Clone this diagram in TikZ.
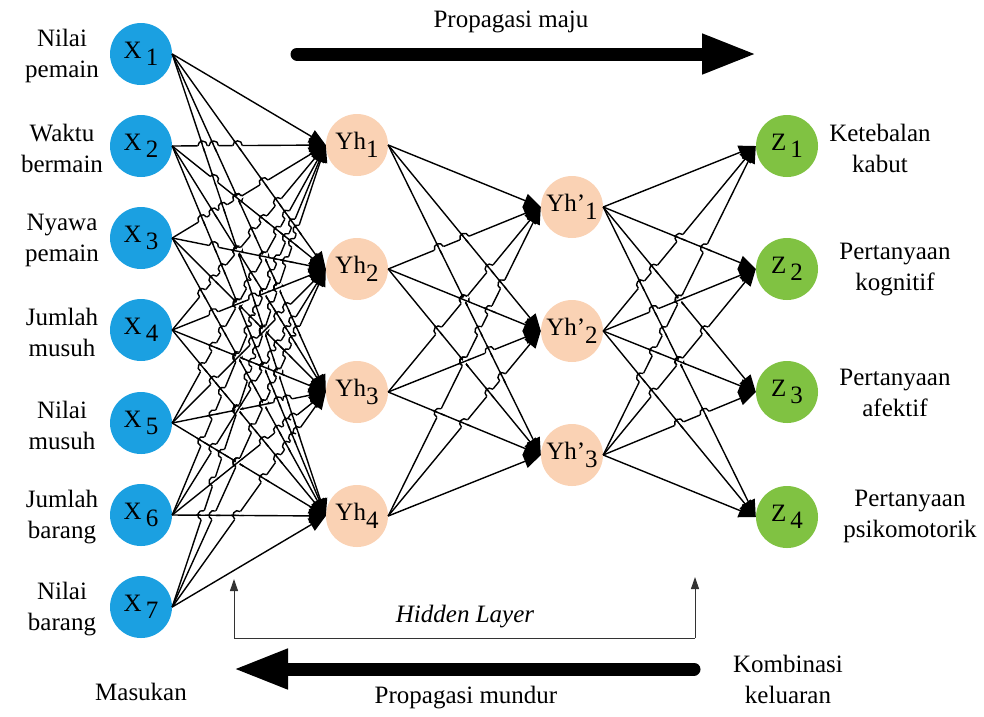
\documentclass[tikz,border=0pt]{standalone}
\usepackage{fontspec}
\setmainfont{LiberationSerif}[Extension=.ttf,UprightFont=*-Regular,ItalicFont=*-Italic,BoldFont=*-Bold,BoldItalicFont=*-BoldItalic]
\usetikzlibrary{arrows.meta}
\definecolor{inblue}{RGB}{27,160,225}
\definecolor{hidpeach}{RGB}{250,210,180}
\definecolor{outgreen}{RGB}{128,194,66}
\newcommand\lowsub[1]{\raisebox{-0.3em}{#1}}

% small hop where a later connector crosses an earlier one
\newcommand\hopat{%
  \draw[white,line width=4pt]
    ({\hpX-4.9*\hpUx},{\hpY-4.9*\hpUy}) -- ({\hpX+4.9*\hpUx},{\hpY+4.9*\hpUy});
  \draw[line width=1.4pt]
    ({\hpX-6.5*\hpVx},{\hpY-6.5*\hpVy}) -- ({\hpX+6.5*\hpVx},{\hpY+6.5*\hpVy});
  \draw[line width=1.4pt]
    ({\hpX-4.7*\hpUx},{\hpY-4.7*\hpUy})
    .. controls +({6.3*\hpUy},{-6.3*\hpUx}) and +({6.3*\hpUy},{-6.3*\hpUx}) ..
    ({\hpX+4.7*\hpUx},{\hpY+4.7*\hpUy});
}
% #1 source x, #2 target x, #3 source ys, #4 number of sources,
% #5 target ys, #6 number of targets
\newcommand\hoplayer[6]{%
 \foreach \hpI in {2,...,#4}{%
  \pgfmathtruncatemacro\hpIm{\hpI-1}%
  \foreach \hpK in {1,...,\hpIm}{%
   \foreach \hpJ in {1,...,#6}{%
    \foreach \hpL in {1,...,#6}{%
     \pgfmathsetmacro\hpSi{{#3}[\hpI-1]}%
     \pgfmathsetmacro\hpSk{{#3}[\hpK-1]}%
     \pgfmathsetmacro\hpTj{{#5}[\hpJ-1]}%
     \pgfmathsetmacro\hpTl{{#5}[\hpL-1]}%
     \pgfmathsetmacro\hpD{\hpSi-\hpSk}%
     \pgfmathsetmacro\hpE{\hpTl-\hpTj}%
     \ifdim\hpE pt>0pt
      \pgfmathsetmacro\hpT{\hpD/(\hpD+\hpE)}%
      \ifdim\hpT pt>0.07pt \ifdim\hpT pt<0.88pt
        \pgfmathsetmacro\hpDx{#2-#1}%
        \pgfmathsetmacro\hpX{#1+\hpT*\hpDx}%
        \pgfmathsetmacro\hpY{\hpSi+\hpT*(\hpTj-\hpSi)}%
        \pgfmathsetmacro\hpBl{veclen(\hpDx,\hpTj-\hpSi)}%
        \pgfmathsetmacro\hpUx{\hpDx/\hpBl}%
        \pgfmathsetmacro\hpUy{(\hpTj-\hpSi)/\hpBl}%
        \pgfmathsetmacro\hpAl{veclen(\hpDx,\hpTl-\hpSk)}%
        \pgfmathsetmacro\hpVx{\hpDx/\hpAl}%
        \pgfmathsetmacro\hpVy{(\hpTl-\hpSk)/\hpAl}%
        \hopat
      \fi\fi
     \fi
    }}}}%
}

\begin{document}
\begin{tikzpicture}[x=1pt,y=-1pt,
  every node/.style={font=\fontsize{25}{31}\selectfont},
  neuron/.style={circle,minimum size=62pt,inner sep=0pt},
  innode/.style={neuron,fill=inblue},
  hidnode/.style={neuron,fill=hidpeach},
  outnode/.style={neuron,fill=outgreen},
  lab/.style={align=center},
  link/.style={line width=1.4pt,-{Triangle[length=17pt,width=14pt]}},
  bigarrow/.style={line width=13pt,line cap=round,-{Triangle[length=55pt,width=37pt]}},
  bracket/.style={line width=1pt,draw=black!80,-{Triangle[length=12pt,width=8pt]}}]
\useasboundingbox (0,0) rectangle (984,716);

% input layer
\node[innode] (x1) at (141,54)  {X\,\lowsub{1}};
\node[innode] (x2) at (141,146) {X\,\lowsub{2}};
\node[innode] (x3) at (141,238) {X\,\lowsub{3}};
\node[innode] (x4) at (141,330) {X\,\lowsub{4}};
\node[innode] (x5) at (141,423) {X\,\lowsub{5}};
\node[innode] (x6) at (141,515) {X\,\lowsub{6}};
\node[innode] (x7) at (141,607) {X\,\lowsub{7}};

\node[lab] (lx1) at (62,56)  {Nilai\\pemain};
\node[lab] (lx2) at (62,148) {Waktu\\bermain};
\node[lab] (lx3) at (62,240) {Nyawa\\pemain};
\node[lab] (lx4) at (62,332) {Jumlah\\musuh};
\node[lab] (lx5) at (62,425) {Nilai\\musuh};
\node[lab] (lx6) at (62,517) {Jumlah\\barang};
\node[lab] (lx7) at (62,609) {Nilai\\barang};

% first hidden layer
\node[hidnode] (h1) at (357,145) {Yh\lowsub{1}};
\node[hidnode] (h2) at (357,269) {Yh\lowsub{2}};
\node[hidnode] (h3) at (357,392) {Yh\lowsub{3}};
\node[hidnode] (h4) at (357,516) {Yh\lowsub{4}};

% second hidden layer
\node[hidnode] (g1) at (572,207) {Yh’\lowsub{1}};
\node[hidnode] (g2) at (572,331) {Yh’\lowsub{2}};
\node[hidnode] (g3) at (572,455) {Yh’\lowsub{3}};

% output layer
\node[outnode] (z1) at (787,146) {Z\,\lowsub{1}};
\node[outnode] (z2) at (787,269) {Z\,\lowsub{2}};
\node[outnode] (z3) at (787,392) {Z\,\lowsub{3}};
\node[outnode] (z4) at (787,517) {Z\,\lowsub{4}};

\node[lab] (lz1) at (880,148) {Ketebalan\\kabut};
\node[lab] (lz2) at (895,270) {Pertanyaan\\kognitif};
\node[lab] (lz3) at (895,393) {Pertanyaan\\afektif};
\node[lab] (lz4) at (910,516) {Pertanyaan\\psikomotorik};

% connections
\foreach \i in {1,...,7}
  \foreach \j in {1,...,4}
    \draw[link] (x\i.east) -- (h\j.west);
\foreach \i in {1,...,4}
  \foreach \j in {1,...,3}
    \draw[link] (h\i.east) -- (g\j.west);
\foreach \i in {1,...,3}
  \foreach \j in {1,...,4}
    \draw[link] (g\i.east) -- (z\j.west);

% line hops at the crossings
\hoplayer{172}{326}{54,146,238,330,423,515,607}{7}{145,269,392,516}{4}
\hoplayer{388}{541}{145,269,392,516}{4}{207,331,455}{3}
\hoplayer{603}{756}{207,331,455}{3}{146,269,392,517}{4}

% propagation arrows
\coordinate (fwdA) at (297,54);
\coordinate (fwdB) at (757,54);
\draw[bigarrow] (fwdA) -- (fwdB);
\node (fwdlab) at (511,22) {Propagasi maju};

\coordinate (bwdA) at (694,669);
\coordinate (bwdB) at (233,669);
\draw[bigarrow] (bwdA) -- (bwdB);
\node (bwdlab) at (466,698) {Propagasi mundur};

% hidden layer bracket
\coordinate (brL) at (234,638);
\coordinate (brR) at (695,638);
\coordinate (brLt) at (234,579);
\coordinate (brRt) at (695,577);
\draw[bracket] (brL) -- (brLt);
\draw[bracket] (brR) -- (brRt);
\draw[line width=1pt,draw=black!80] (brL) -- (brR);
\node[font=\fontsize{25}{31}\selectfont\itshape] (hid) at (465,617) {Hidden Layer};

\node[lab] (inlab) at (141,692) {Masukan};
\node[lab] (outlab) at (788,679) {Kombinasi\\keluaran};
\end{tikzpicture}
\end{document}
